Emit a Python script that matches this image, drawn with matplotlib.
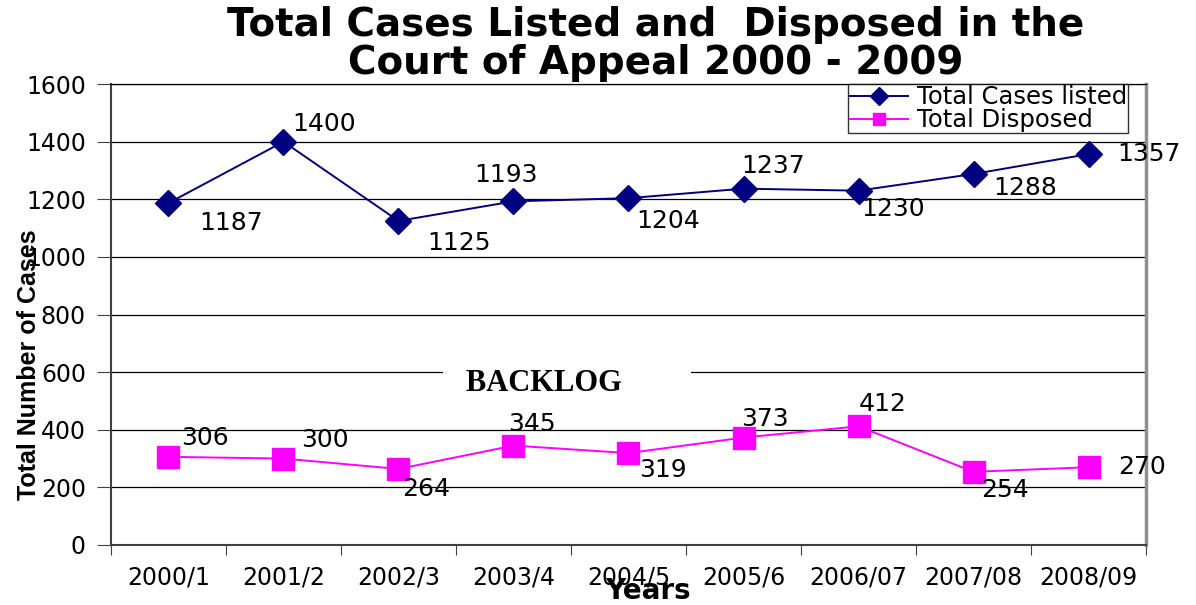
import matplotlib.pyplot as plt

# data
years = ["2000/1", "2001/2", "2002/3", "2003/4", "2004/5", "2005/6", "2006/07", "2007/08", "2008/09"]
listed = [1187, 1400, 1125, 1193, 1204, 1237, 1230, 1288, 1357]
disposed = [306, 300, 264, 345, 319, 373, 412, 254, 270]

# label offsets (pixels) for each data label
listed_off = [(63, -20), (41, 18), (61, -22), (-7, 26), (40, -23), (30, 23), (35, -18), (52, -14), (60, 0)]
disposed_off = [(37, 19), (41, 19), (28, -20), (18, 22), (34, -17), (21, 19), (24, 22), (31, -18), (53, 0)]

plt.rcParams['font.family'] = ['DejaVu Sans']

fig = plt.figure(figsize=(11.96, 6.05), dpi=100)
ax = fig.add_axes([0.0928, 0.0992, 0.8654, 0.7618])

x = list(range(len(years)))
ax.plot(x, listed, color='#000080', marker='D', markersize=13, lw=1.4,
        label='Total Cases listed', zorder=3)
ax.plot(x, disposed, color='#FF00FF', marker='s', markersize=16, lw=1.4,
        label='Total Disposed', zorder=3)

for i, v in enumerate(listed):
    ax.annotate(str(v), (i, v), xytext=listed_off[i], textcoords='offset pixels',
                ha='center', va='center', fontsize=18)
for i, v in enumerate(disposed):
    ax.annotate(str(v), (i, v), xytext=disposed_off[i], textcoords='offset pixels',
                ha='center', va='center', fontsize=18)

ax.set_xlim(-0.5, len(years) - 0.5)
ax.set_ylim(0, 1600)
ax.set_yticks(range(0, 1601, 200))
ax.set_xticks([i + 0.5 for i in range(-1, len(years))])
ax.set_xticklabels([])
ax.set_xticks(x, minor=True)
ax.set_xticklabels(years, minor=True, fontsize=17)
ax.tick_params(axis='x', which='minor', length=0, pad=15)
ax.tick_params(axis='x', which='major', length=7, color='#404040')
ax.tick_params(axis='y', labelsize=17, length=10, color='#404040', pad=8)
ax.yaxis.grid(True, color='black', lw=0.9)
ax.set_axisbelow(True)

for s in ['left', 'bottom']:
    ax.spines[s].set_color('#404040')
    ax.spines[s].set_linewidth(1.5)
ax.spines['top'].set_color('black')
ax.spines['top'].set_linewidth(0.9)
ax.spines['right'].set_color('#909090')
ax.spines['right'].set_linewidth(2.5)

leg = ax.legend(loc='upper right', bbox_to_anchor=(0.9826, 1.0), fontsize=17.5,
                frameon=True, fancybox=False, edgecolor='black',
                borderpad=0.05, labelspacing=-0.05, handlelength=2.4,
                handletextpad=0.35, borderaxespad=0.0)
leg.get_frame().set_linewidth(1.0)
for h in leg.legend_handles:
    h.set_markersize(9)

ax.text(3.465, 562, '   BACKLOG         ', ha='center', va='center',
        fontsize=22, fontweight='bold', family='Liberation Serif',
        bbox=dict(facecolor='white', edgecolor='none', boxstyle='square,pad=0'))

fig.text(0.548, 0.928, 'Total Cases Listed and  Disposed in the\nCourt of Appeal 2000 - 2009',
         ha='center', va='center', fontsize=28, fontweight='bold', linespacing=1.0)
fig.text(0.024, 0.397, 'Total Number of Cases', rotation=90, ha='center', va='center',
         fontsize=18, fontweight='bold', family='Liberation Sans')
fig.text(0.542, 0.023, 'Years', ha='center', va='center', fontsize=20, fontweight='bold')

fig.savefig('out.png', dpi=100)
